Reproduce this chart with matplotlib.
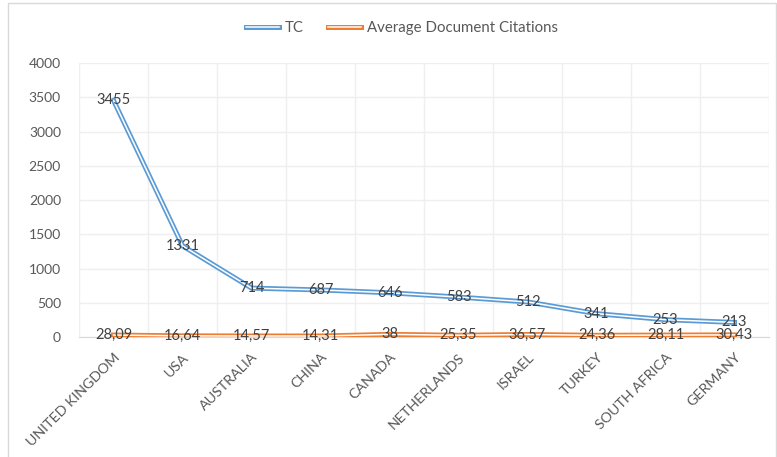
import matplotlib
matplotlib.use("Agg")
import matplotlib.pyplot as plt
from matplotlib.lines import Line2D
from matplotlib.legend_handler import HandlerTuple
from matplotlib.patches import Rectangle

countries = ["UNITED KINGDOM", "USA", "AUSTRALIA", "CHINA", "CANADA",
             "NETHERLANDS", "ISRAEL", "TURKEY", "SOUTH AFRICA", "GERMANY"]
tc = [3455, 1331, 714, 687, 646, 583, 512, 341, 253, 213]
avg_cit = [28.09, 16.64, 14.57, 14.31, 38, 25.35, 36.57, 24.36, 28.11, 30.43]
avg_labels = ["28,09", "16,64", "14,57", "14,31", "38",
              "25,35", "36,57", "24,36", "28,11", "30,43"]

BLUE = "#5B9BD5"
ORANGE = "#ED7D31"
GRID = "#EFEFEF"
TXT = "#404040"

plt.rcParams["font.family"] = ["Lato", "DejaVu Sans"]

fig = plt.figure(figsize=(7.77, 4.57), dpi=100)
ax = fig.add_axes([0.1017, 0.2626, 0.8880, 0.5994])

# outer frame
fig.patches.append(Rectangle((8 / 777, -0.01), 768 / 777, 1 - 3 / 457 + 0.01,
                             transform=fig.transFigure, fill=False,
                             edgecolor="#D9D9D9", lw=1))

x = list(range(len(countries)))

# double lines: thick colour with thin white core
ax.plot(x, tc, color=BLUE, lw=3.6, solid_joinstyle="round", zorder=3)
ax.plot(x, tc, color="white", lw=1.1, solid_joinstyle="round", zorder=4)
ax.plot(x, avg_cit, color=ORANGE, lw=3.6, solid_joinstyle="round", zorder=3)
ax.plot(x, avg_cit, color="white", lw=1.1, solid_joinstyle="round", zorder=4)

for xi, v in zip(x, tc):
    ax.text(xi, v, str(v), ha="center", va="center", fontsize=10.5, color=TXT, zorder=5)
for xi, v, lab in zip(x, avg_cit, avg_labels):
    ax.text(xi, v, lab, ha="center", va="center", fontsize=10.5, color=TXT, zorder=5)

ax.set_xlim(-0.5, len(countries) - 0.5)
ax.set_ylim(0, 4000)
ax.set_yticks(range(0, 4001, 500))
ax.yaxis.grid(True, color=GRID, lw=1)
for b in range(len(countries) + 1):
    ax.axvline(b - 0.5, color=GRID, lw=1, zorder=0)
ax.set_axisbelow(True)

for s in ["top", "right", "left"]:
    ax.spines[s].set_visible(False)
ax.spines["bottom"].set_color("#D9D9D9")

ax.set_xticks(x)
ax.set_xticklabels(countries, rotation=45, ha="right", rotation_mode="anchor",
                   fontsize=10.3, color="#595959")
ax.tick_params(axis="x", length=0, pad=10)
ax.tick_params(axis="y", length=0, labelsize=10, labelcolor="#595959", pad=13)

h_tc = (Line2D([], [], color=BLUE, lw=3.6), Line2D([], [], color="white", lw=1.1))
h_avg = (Line2D([], [], color=ORANGE, lw=3.6), Line2D([], [], color="white", lw=1.1))
fig.legend([h_tc, h_avg], ["TC", "Average Document Citations"],
           handler_map={tuple: HandlerTuple(ndivide=1)},
           loc="center", bbox_to_anchor=(0.517, 0.938), ncol=2, frameon=False,
           fontsize=10.8, labelcolor="#595959", handlelength=2.2, columnspacing=1.6,
           handletextpad=0.4)

fig.savefig("out.png", dpi=100)
